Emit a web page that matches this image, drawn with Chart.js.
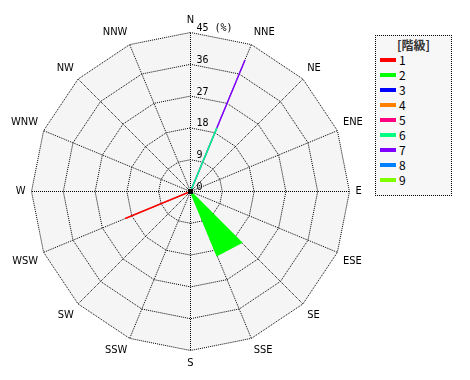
<!DOCTYPE html>
<html><head><meta charset="utf-8">
<script src="https://cdn.jsdelivr.net/npm/chart.js@4"></script>
<style>
html,body{margin:0;padding:0;background:#fff;}
#wrap{position:relative;width:470px;height:380px;overflow:hidden;}
#c{position:absolute;left:0;top:0;}
#legend{position:absolute;left:375px;top:35px;width:75px;height:159px;border:1px dotted #000;background:#f7f7f7;font-family:'Noto Sans CJK JP','DejaVu Sans',sans-serif;color:#000;}
#legend .t{position:absolute;left:0;top:1px;width:100%;text-align:center;font-size:12px;line-height:15px;font-weight:bold;color:#333;}
#legend .sw{position:absolute;left:4px;width:16px;height:4px;}
#legend .lb{position:absolute;left:23px;font-size:12px;line-height:14px;}
</style></head>
<body>
<div id="wrap">
<canvas id="c" width="470" height="380"></canvas>
<div id="legend"></div>
</div>
<script>
const directions = ['N','NNE','NE','ENE','E','ESE','SE','SSE','S','SSW','SW','WSW','W','WNW','NW','NNW'];
const classNames = ['1','2','3','4','5','6','7','8','9'];
const classColors = ['#ff0000','#00ff00','#0000ff','#ff8000','#ff0080','#00ff80','#8000ff','#0080ff','#80ff00'];
const class1 = [0,0,0,0,0,0,0,0,0,0,0,20.0,0,0,0,0];
const class2 = [0,0,0,0,0,0,20.4,19.6,0,0,0,0,0,0,0,0];
const class3 = [0,0,0,0,0,0,0,0,0,0,0,0,0,0,0,0];
const class4 = [0,0,0,0,0,0,0,0,0,0,0,0,0,0,0,0];
const class5 = [0,0,0,0,0,0,0,0,0,0,0,0,0,0,0,0];
const class6 = [0,19.5,0,0,0,0,0,0,0,0,0,0,0,0,0,0];
const class7 = [0,40.3,0,0,0,0,0,0,0,0,0,0,0,0,0,0];
const class8 = [0,0,0,0,0,0,0,0,0,0,0,0,0,0,0,0];
const class9 = [0,0,0,0,0,0,0,0,0,0,0,0,0,0,0,0];
const tickValues = [0,9,18,27,36,45];
const tickLabels = ['0','9','18','27','36','45 (%)'];

const classData = [class1,class2,class3,class4,class5,class6,class7,class8,class9];

// HTML legend
const lg = document.getElementById('legend');
let html = '<div class="t">[階級]</div>';
classNames.forEach((n,i)=>{
  const cy = 24 + 15*i;
  html += '<div class="sw" style="top:'+(cy-2)+'px;background:'+classColors[i]+'"></div>';
  html += '<div class="lb" style="top:'+(cy-7)+'px">'+n+'</div>';
});
lg.innerHTML = html;

const bgPlugin = {
  id:'bgPoly',
  beforeDraw(chart){
    const s = chart.scales.r, ctx = chart.ctx;
    ctx.save();
    ctx.translate(0.5,0.5);
    ctx.beginPath();
    for(let i=0;i<directions.length;i++){
      const p = s.getPointPosition(i, s.getDistanceFromCenterForValue(s.max));
      if(i===0) ctx.moveTo(p.x,p.y); else ctx.lineTo(p.x,p.y);
    }
    ctx.closePath();
    ctx.fillStyle='#f5f5f5';
    ctx.fill();
  },
  afterDraw(chart){
    chart.ctx.restore();
  }
};
const tickPlugin = {
  id:'tickText',
  afterDatasetsDraw(chart){
    const s = chart.scales.r, ctx = chart.ctx;
    ctx.save();
    ctx.font = '10px "DejaVu Sans Mono", monospace';
    ctx.fillStyle = '#000';
    ctx.textAlign = 'left';
    ctx.textBaseline = 'bottom';
    s.ticks.forEach((t,i)=>{
      const d = s.getDistanceFromCenterForValue(t.value);
      ctx.fillText(t.label, s.xCenter+6, s.yCenter - d + 1);
    });
    ctx.restore();
  }
};

const pad = {left:13,top:13,bottom:13,right:103};
const chart = new Chart(document.getElementById('c'), {
  type:'radar',
  data:{
    labels: directions,
    datasets: classData.map((d,i)=>({
      label: classNames[i],
      data: d,
      backgroundColor: classColors[i],
      borderColor: classColors[i],
      borderWidth: 1.5,
      fill: true,
      pointRadius: (c)=> c.raw===0 ? 2.5 : 0,
      pointBackgroundColor:'#000',
      pointBorderWidth:0,
      pointHoverRadius:0
    }))
  },
  options:{
    responsive:false,
    animation:false,
    layout:{padding:pad},
    plugins:{legend:{display:false},tooltip:{enabled:false}},
    elements:{line:{tension:0}},
    scales:{
      r:{
        min:0,max:45,
        ticks:{stepSize:9,display:false,callback:(v,i)=>tickLabels[i]},
        grid:{color:'#000',lineWidth:1,borderDash:[1,1],borderDashOffset:0.5,circular:false},
        border:{dash:[1,1],dashOffset:0.5},
        angleLines:{color:'#000',lineWidth:1,borderDash:[1,1],borderDashOffset:0.5},
        pointLabels:{color:'#000',padding:6,font:{family:"'Liberation Sans Narrow','DejaVu Sans Condensed','Liberation Sans',sans-serif",size:11}}
      }
    }
  },
  plugins:[bgPlugin,tickPlugin]
});
// fit the radial area to the reference geometry (centre 190,190; radius 159)
for(let k=0;k<3;k++){
  const s = chart.scales.r;
  const dr = 159 - s.drawingArea, dx = 190 - s.xCenter, dy = 190 - s.yCenter;
  if(!dr && !dx && !dy) break;
  pad.left += -dr + dx; pad.right += -dr - dx;
  pad.top += -dr + dy; pad.bottom += -dr - dy;
  chart.options.layout.padding = Object.assign({}, pad);
  chart.update();
}
</script>
</body></html>
